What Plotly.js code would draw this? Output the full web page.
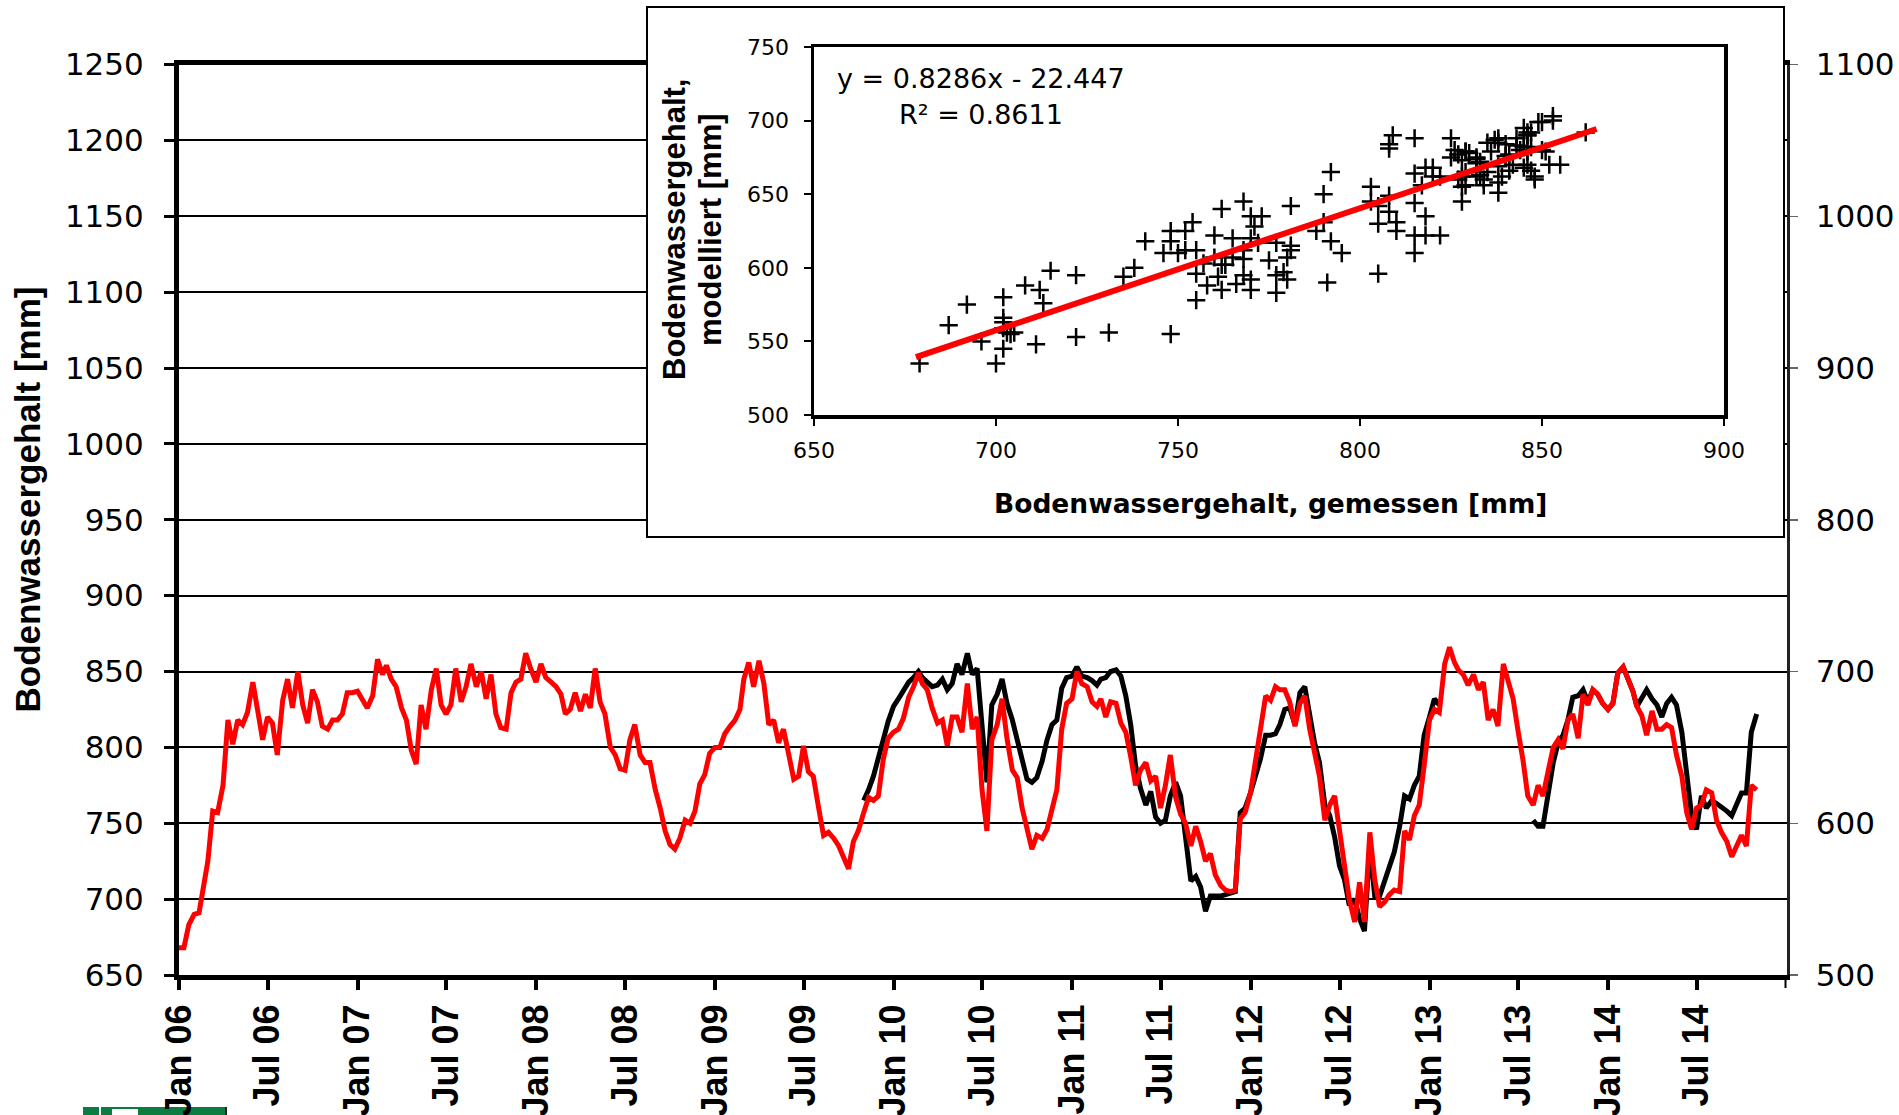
<!DOCTYPE html>
<html>
<head>
<meta charset="utf-8">
<script src="https://cdn.plot.ly/plotly-3.0.1.min.js"></script>
<style>
html, body { margin: 0; padding: 0; background: #ffffff; }
#chart { width: 1899px; height: 1115px; }
</style>
</head>
<body>
<div id="chart"></div>
<script>
// ---------- DATA ----------
// Sampling: three readings per month (day 1, 11, 21)
const samplingDays = [1, 11, 21];

// Modelled soil water content [mm] (red line, right axis), from Jan 2006
const modeledStart = [2006, 1];
const modeled2006 = [518,518,533, 540,541,558, 575,608,607, 625,668,652, 668,665,673, 693,672,655, 670,666,645, 681,695,676, 700,678,666, 688,680,664, 662,668,668, 672,686,686];
const modeled2007 = [687,682,676, 684,708,698, 704,695,690, 676,668,648, 639,678,662, 688,702,678, 672,678,702, 680,690,705, 690,700,682, 698,672,663, 662,686,693, 695,712,702];
const modeled2008 = [693,705,696, 693,690,685, 672,675,686, 674,685,676, 702,680,672, 650,645,636, 635,655,665, 645,640,640, 622,610,595, 586,583,590, 602,600,608, 626,632,646];
const modeled2009 = [650,650,659, 664,668,675, 695,706,690, 707,692,665, 668,653,662, 645,629,631, 651,634,631, 610,592,594, 590,585,578, 570,588,595, 607,617,615, 618,642,656];
const modeled2010 = [660,662,669, 683,690,699, 692,688,676, 666,668,651, 670,670,660, 692,662,670, 622,595,655, 665,682,656, 635,630,610, 597,583,592, 590,596,610, 622,662,679];
const modeled2011 = [682,700,692, 690,680,677, 682,670,680, 679,666,660, 644,625,635, 640,628,631, 610,625,645, 617,606,600, 585,598,588, 575,580,566, 559,556,555, 556,603,607];
const modeled2012 = [620,642,665, 684,681,690, 688,688,680, 664,679,684, 662,645,631, 602,612,618, 595,576,550, 535,561,535, 594,563,545, 548,553,556, 555,595,589, 605,612,638];
const modeled2013 = [668,675,673, 705,716,706, 701,698,691, 698,688,693, 668,675,664, 705,692,682, 661,642,618, 612,625,618, 635,650,655, 649,668,672, 656,685,678, 688,685,679];
const modeled2014 = [675,679,699, 703,695,687, 677,671,658, 674,662,662, 665,663,645, 631,607,596, 610,612,622, 620,602,594, 588,578,585, 592,585,625, 622];

// Measured soil water content [mm] (black line, left axis), from Nov 2009
const measuredStart = [2009, 11];
const measured2009 = [765,772,781, 792,805,817];
const measured2010 = [827,832,838, 843,846,850, 846,843,840, 841,845,838, 842,855,848, 862,848,852, 815,777,828, 835,845,829, 818,805,795, 779,777,780, 791,805,815, 818,839,846];
const measured2011 = [847,853,847, 846,844,841, 845,846,850, 851,847,834, 815,788,773, 762,771,754, 750,752,768, 777,768,738, 712,715,708, 692,702,702, 702,703,704, 705,757,760];
const measured2012 = [770,781,792, 808,808,809, 815,825,826, 815,836,840, 822,803,790, 762,755,741, 722,713,696, 700,687,679, 735,702,702, 711,722,731, 748,768,766, 775,781,808];
const measured2013 = [820,832,828, null,null,null, null,null,null, null,null,null, null,null,null, null,null,null, null,null,null, 752,748,748, 770,790,803, 808,818,833, 834,838,830, 838,835,829];
const measured2014 = [825,829,849, 853,845,837, 827,832,838, 832,828,820, 829,833,828, 810,780,755, 746,768,760, 765,763,761, 758,755,762, 770,770,810, 822];

// Regression shown in the inset
const trendSlope = 0.8286;
const trendIntercept = -22.447;
const trendXRange = [678, 865];
const eqLabel = 'y = 0.8286x - 22.447';
const r2Label = 'R² = 0.8611';

// X tick labels
const tickVals = ['2006-01-01','2006-07-01','2007-01-01','2007-07-01','2008-01-01','2008-07-01','2009-01-01','2009-07-01','2010-01-01','2010-07-01','2011-01-01','2011-07-01','2012-01-01','2012-07-01','2013-01-01','2013-07-01','2014-01-01','2014-07-01'];
const tickText = ['Jan 06','Jul 06','Jan 07','Jul 07','Jan 08','Jul 08','Jan 09','Jul 09','Jan 10','Jul 10','Jan 11','Jul 11','Jan 12','Jul 12','Jan 13','Jul 13','Jan 14','Jul 14'];

// ---------- BUILD ----------
const modeled = [].concat(modeled2006, modeled2007, modeled2008, modeled2009, modeled2010, modeled2011, modeled2012, modeled2013, modeled2014);
const measured = [].concat(measured2009, measured2010, measured2011, measured2012, measured2013, measured2014);

function buildDates(start, n) {
  const out = [];
  let y = start[0], m = start[1];
  while (out.length < n) {
    for (const d of samplingDays) {
      if (out.length >= n) break;
      out.push(y + '-' + String(m).padStart(2, '0') + '-' + String(d).padStart(2, '0'));
    }
    m++; if (m > 12) { m = 1; y++; }
  }
  return out;
}
const modeledDates = buildDates(modeledStart, modeled.length);
const measuredDates = buildDates(measuredStart, measured.length);

// pairs for the scatter inset (same sampling dates)
const offset = ((measuredStart[0] - modeledStart[0]) * 12 + (measuredStart[1] - modeledStart[1])) * samplingDays.length;
const scX = [], scY = [];
for (let i = 0; i < measured.length; i++) {
  const j = i + offset;
  if (measured[i] != null && modeled[j] != null) { scX.push(measured[i]); scY.push(modeled[j]); }
}

const W = 1899, H = 1115;
const px = v => v / W;
const py = v => (H - v) / H;

const FH = 'DejaVu Sans';
const FB = 'Liberation Sans, Arial, sans-serif';

const traces = [
  { x: measuredDates, y: measured, type: 'scatter', mode: 'lines', xaxis: 'x', yaxis: 'y',
    line: { color: '#000000', width: 5 }, connectgaps: false, hoverinfo: 'skip' },
  { x: modeledDates, y: modeled, type: 'scatter', mode: 'lines', xaxis: 'x', yaxis: 'y2',
    line: { color: '#ff0000', width: 5 }, hoverinfo: 'skip' },
  { x: [0.5], y: [0.5], type: 'scatter', mode: 'markers', xaxis: 'x3', yaxis: 'y3',
    marker: { opacity: 0 }, hoverinfo: 'skip' },
  { x: scX, y: scY, type: 'scatter', mode: 'markers', xaxis: 'x4', yaxis: 'y4',
    marker: { symbol: 'cross-thin-open', size: 13, color: '#000000', line: { color: '#000000', width: 2.5 } }, hoverinfo: 'skip' },
  { x: trendXRange, y: trendXRange.map(v => trendSlope * v + trendIntercept), type: 'scatter', mode: 'lines',
    xaxis: 'x4', yaxis: 'y4', line: { color: '#ff0000', width: 6 }, hoverinfo: 'skip' }
];

const layout = {
  width: W, height: H,
  margin: { l: 0, r: 0, t: 0, b: 0 },
  paper_bgcolor: '#ffffff', plot_bgcolor: '#ffffff',
  showlegend: false,
  xaxis: {
    domain: [px(179), px(1786.5)], anchor: 'y', type: 'date',
    range: ['2006-01-01', '2015-01-01'],
    tickmode: 'array', tickvals: tickVals, ticktext: tickText, tickangle: -90,
    tickfont: { family: FB, size: 36, color: '#000000', weight: 'bold' },
    ticks: 'outside', ticklen: 10, tickwidth: 4, tickcolor: '#000000',
    showline: true, linewidth: 5, linecolor: '#000000', mirror: true,
    showgrid: false, zeroline: false, fixedrange: true
  },
  yaxis: {
    domain: [py(975), py(64.5)], anchor: 'x',
    range: [650, 1250], tickmode: 'linear', tick0: 650, dtick: 50,
    tickfont: { family: FH, size: 31, color: '#000000' },
    ticks: 'outside', ticklen: 10, tickwidth: 3, tickcolor: '#000000',
    showline: true, linewidth: 5, linecolor: '#000000',
    showgrid: true, gridcolor: '#000000', gridwidth: 2,
    zeroline: false, fixedrange: true, ticklabelstandoff: 14
  },
  yaxis2: {
    overlaying: 'y', side: 'right', anchor: 'x',
    range: [500, 1100], tickmode: 'linear', tick0: 500, dtick: 100,
    tickfont: { family: FH, size: 31, color: '#000000' },
    ticks: 'outside', ticklen: 8, tickwidth: 1.5, tickcolor: '#666666',
    showline: true, linewidth: 3, linecolor: '#222222',
    showgrid: false, zeroline: false, fixedrange: true, ticklabelstandoff: 12
  },
  xaxis3: {
    domain: [px(648), px(1783)], anchor: 'y3', range: [0, 1],
    showline: true, mirror: true, linewidth: 2, linecolor: '#000000',
    showticklabels: false, ticks: '', showgrid: false, zeroline: false, fixedrange: true
  },
  yaxis3: {
    domain: [py(536), py(8)], anchor: 'x3', range: [0, 1],
    showline: true, mirror: true, linewidth: 2, linecolor: '#000000',
    showticklabels: false, ticks: '', showgrid: false, zeroline: false, fixedrange: true
  },
  xaxis4: {
    domain: [px(814), px(1724)], anchor: 'y4', range: [650, 900],
    tickmode: 'linear', tick0: 650, dtick: 50,
    tickfont: { family: FH, size: 22, color: '#000000' },
    ticks: 'outside', ticklen: 7, tickwidth: 2, tickcolor: '#000000',
    showline: true, mirror: true, linewidth: 3.5, linecolor: '#000000',
    showgrid: false, zeroline: false, fixedrange: true, ticklabelstandoff: 6
  },
  yaxis4: {
    domain: [py(415), py(47)], anchor: 'x4', range: [500, 750],
    tickmode: 'linear', tick0: 500, dtick: 50,
    tickfont: { family: FH, size: 22, color: '#000000' },
    ticks: 'outside', ticklen: 7, tickwidth: 2, tickcolor: '#000000',
    showline: true, mirror: true, linewidth: 3.5, linecolor: '#000000',
    showgrid: false, zeroline: false, fixedrange: true, ticklabelstandoff: 10
  },
  annotations: [
    { text: 'Bodenwassergehalt [mm]', xref: 'paper', yref: 'paper', x: px(27.5), y: py(500),
      textangle: -90, showarrow: false, xanchor: 'center', yanchor: 'middle',
      font: { family: FB, size: 35, color: '#000000', weight: 'bold' } },
    { text: 'Bodenwassergehalt,', xref: 'paper', yref: 'paper', x: px(674), y: py(230),
      textangle: -90, showarrow: false, xanchor: 'center', yanchor: 'middle',
      font: { family: FB, size: 31, color: '#000000', weight: 'bold' } },
    { text: 'modelliert [mm]', xref: 'paper', yref: 'paper', x: px(710), y: py(230),
      textangle: -90, showarrow: false, xanchor: 'center', yanchor: 'middle',
      font: { family: FB, size: 31, color: '#000000', weight: 'bold' } },
    { text: 'Bodenwassergehalt, gemessen [mm]', xref: 'paper', yref: 'paper', x: px(1271), y: py(503.5),
      showarrow: false, xanchor: 'center', yanchor: 'middle',
      font: { family: FH, size: 26.5, color: '#000000', weight: 'bold' } },
    { text: eqLabel, xref: 'paper', yref: 'paper', x: px(981), y: py(78),
      showarrow: false, xanchor: 'center', yanchor: 'middle',
      font: { family: FH, size: 27, color: '#000000' } },
    { text: r2Label, xref: 'paper', yref: 'paper', x: px(981), y: py(114.5),
      showarrow: false, xanchor: 'center', yanchor: 'middle',
      font: { family: FH, size: 27, color: '#000000' } }
  ],
  shapes: [
    // end tick of the time axis (Jan 15, unlabelled)
    { type: 'line', xref: 'x', yref: 'paper', x0: '2015-01-01', x1: '2015-01-01',
      y0: py(977), y1: py(988), line: { color: '#000000', width: 4 } },
    // partially visible logo at the bottom-left
    { type: 'rect', xref: 'paper', yref: 'paper', layer: 'below', x0: px(83), x1: px(225), y0: 0, y1: py(1107),
      fillcolor: '#0b7d40', line: { width: 0 } },
    { type: 'rect', xref: 'paper', yref: 'paper', layer: 'below', x0: px(99), x1: px(101), y0: 0, y1: py(1107),
      fillcolor: '#ffffff', line: { width: 0 } },
    { type: 'rect', xref: 'paper', yref: 'paper', layer: 'below', x0: px(112), x1: px(138), y0: 0, y1: py(1109),
      fillcolor: '#ffffff', line: { width: 0 } },
    { type: 'rect', xref: 'paper', yref: 'paper', layer: 'below', x0: px(225), x1: px(227), y0: 0, y1: py(1107),
      fillcolor: '#222222', line: { width: 0 } }
  ]
};

Plotly.newPlot('chart', traces, layout, { displayModeBar: false, staticPlot: true });
</script>
</body>
</html>
